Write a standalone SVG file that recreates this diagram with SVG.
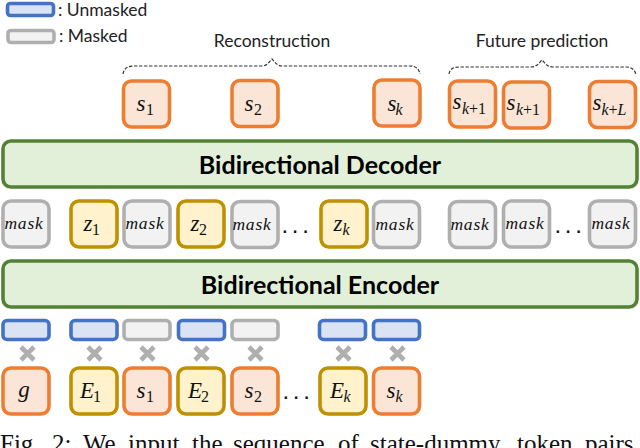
<svg xmlns="http://www.w3.org/2000/svg" width="640" height="448" viewBox="0 0 640 448">
<defs>
<style>
.tile{stroke-width:3.6}
.o{fill:#fbe5d6;stroke:#ed7d31}
.y{fill:#fff2cc;stroke:#bf9000}
.g{fill:#f2f2f2;stroke:#afafaf}
.b{fill:#dae3f3;stroke:#4472c4}
.bar{fill:#e2f0d9;stroke:#548235;stroke-width:3.6}
.m{font-family:"Liberation Serif","DejaVu Serif",serif;font-style:italic;fill:#111;text-anchor:middle}
.v{font-size:23px}
.sub{font-size:16px}
.n{font-style:normal}
.mk{font-size:17.5px;letter-spacing:.8px}
.l{font-family:Lato,"Open Sans","Liberation Sans",sans-serif;fill:#222;font-size:17.5px}
.h{font-family:Lato,"Open Sans","Liberation Sans",sans-serif;font-weight:700;fill:#000;font-size:25px;text-anchor:middle}
.brace{fill:none;stroke:#333;stroke-width:1.2;stroke-dasharray:3.4 1.6}
.x{fill:none;stroke:#afafaf;stroke-width:4.6}
.dots{font-family:"Liberation Sans",sans-serif;font-size:24px;fill:#111;letter-spacing:3.6px;text-anchor:middle}
.cap{font-family:"Liberation Serif",serif;font-size:25px;fill:#111}
</style>
</defs>

<g id="legend">
<rect class="tile b" x="7.500" y="3.500" width="46" height="12" rx="3"/>
<text class="l" x="58" y="16">: Unmasked</text>
<rect class="tile g" x="8" y="30.500" width="46" height="12" rx="3"/>
<text class="l" x="59" y="42">: Masked</text>
</g>

<g id="connectors">
<path class="brace" d="M123 74C124 69 127 66 134 66H262C267 66 269 62 272 59C275 62 277 66 282 66H410C416 66 419 69 420 74"/>
<path class="brace" d="M449 74C450 69 453 67 459 67H531C537 67 539 63 542 60C545 63 547 67 553 67H626C632 67 635 70 636 75"/>
<path class="x" d="M21 347l13 13M34 347l-13 13M88 347l13 13M101 347l-13 13M141 347l13 13M154 347l-13 13M195 347l13 13M208 347l-13 13M249 347l13 13M262 347l-13 13M337 347l13 13M350 347l-13 13M391 347l13 13M404 347l-13 13"/>
</g>

<g id="label-reconstruction"><text class="l" x="272" y="47" text-anchor="middle">Reconstruction</text></g>
<g id="label-future"><text class="l" x="542" y="47" text-anchor="middle">Future prediction</text></g>

<g id="out-s1"><rect class="tile o" x="123.500" y="81" width="46" height="46" rx="8"/><text class="m v" x="141" y="111">s</text><text class="m sub n" x="150" y="115">1</text></g>
<g id="out-s2"><rect class="tile o" x="232" y="80.500" width="46" height="46" rx="8"/><text class="m v" x="249" y="111">s</text><text class="m sub n" x="258" y="115">2</text></g>
<g id="out-sk"><rect class="tile o" x="374" y="80" width="46" height="46" rx="8"/><text class="m v" x="392" y="111">s</text><text class="m sub" x="399" y="115">k</text></g>
<g id="out-sk1a"><rect class="tile o" x="449.500" y="81" width="46" height="46" rx="8"/><text class="m v" x="457" y="109">s</text><text class="m sub" x="474" y="114">k<tspan class="n">+1</tspan></text></g>
<g id="out-sk1b"><rect class="tile o" x="503.500" y="82" width="46" height="46" rx="8"/><text class="m v" x="511" y="110">s</text><text class="m sub" x="528" y="115">k<tspan class="n">+1</tspan></text></g>
<g id="out-skL"><rect class="tile o" x="589.500" y="81.500" width="46" height="46" rx="8"/><text class="m v" x="597" y="110">s</text><text class="m sub" x="614" y="115">k<tspan class="n">+</tspan>L</text></g>

<g id="decoder"><rect class="bar" x="3" y="141" width="634" height="46" rx="8"/><text class="h" x="320" y="174">Bidirectional Decoder</text></g>

<g id="mid-mask0"><rect class="tile g" x="3" y="201" width="46" height="46" rx="8"/><text class="m mk" x="24" y="229">mask</text></g>
<g id="mid-z1"><rect class="tile y" x="71" y="201" width="46" height="46" rx="8"/><text class="m v" x="88" y="231">z</text><text class="m sub n" x="96" y="235">1</text></g>
<g id="mid-mask1"><rect class="tile g" x="124" y="201" width="46" height="46" rx="8"/><text class="m mk" x="145" y="229">mask</text></g>
<g id="mid-z2"><rect class="tile y" x="178" y="201" width="46" height="46" rx="8"/><text class="m v" x="195" y="231">z</text><text class="m sub n" x="203" y="235">2</text></g>
<g id="mid-mask2"><rect class="tile g" x="232" y="201.500" width="46" height="46" rx="8"/><text class="m mk" x="252" y="230">mask</text></g>
<text class="dots" x="297" y="233">...</text>
<g id="mid-zk"><rect class="tile y" x="321" y="201" width="46" height="46" rx="8"/><text class="m v" x="338" y="231">z</text><text class="m sub" x="346" y="235">k</text></g>
<g id="mid-mask3"><rect class="tile g" x="373.500" y="201.500" width="46" height="46" rx="8"/><text class="m mk" x="395" y="230">mask</text></g>
<g id="mid-mask4"><rect class="tile g" x="449.500" y="201.500" width="46" height="46" rx="8"/><text class="m mk" x="470" y="230">mask</text></g>
<g id="mid-mask5"><rect class="tile g" x="503.500" y="201" width="46" height="46" rx="8"/><text class="m mk" x="525" y="229">mask</text></g>
<text class="dots" x="570" y="233">...</text>
<g id="mid-mask6"><rect class="tile g" x="589.500" y="201" width="46" height="46" rx="8"/><text class="m mk" x="611" y="229">mask</text></g>

<g id="encoder"><rect class="bar" x="3" y="261" width="634" height="46" rx="8"/><text class="h" x="320" y="294">Bidirectional Encoder</text></g>

<g id="tok-g"><rect class="tile b" x="3" y="320.500" width="46" height="19" rx="4"/></g>
<g id="tok-e1"><rect class="tile b" x="71" y="320.500" width="46" height="19" rx="4"/></g>
<g id="tok-s1"><rect class="tile g" x="124" y="320.500" width="46" height="19" rx="4"/></g>
<g id="tok-e2"><rect class="tile b" x="178.500" y="320.500" width="46" height="19" rx="4"/></g>
<g id="tok-s2"><rect class="tile g" x="232" y="320.500" width="46" height="19" rx="4"/></g>
<g id="tok-ek"><rect class="tile b" x="319.500" y="320.500" width="46" height="19" rx="4"/></g>
<g id="tok-sk"><rect class="tile b" x="373.500" y="320.500" width="46" height="19" rx="4"/></g>

<g id="in-g"><rect class="tile o" x="3" y="368" width="46" height="46" rx="8"/><text class="m v" x="24" y="397">g</text></g>
<g id="in-e1"><rect class="tile y" x="71" y="368" width="46" height="46" rx="8"/><text class="m v" x="87" y="398">E</text><text class="m sub n" x="97" y="402">1</text></g>
<g id="in-s1"><rect class="tile o" x="124" y="368" width="46" height="46" rx="8"/><text class="m v" x="141" y="398">s</text><text class="m sub n" x="150" y="402">1</text></g>
<g id="in-e2"><rect class="tile y" x="178" y="368" width="46" height="46" rx="8"/><text class="m v" x="195" y="398">E</text><text class="m sub n" x="205" y="402">2</text></g>
<g id="in-s2"><rect class="tile o" x="232" y="368" width="46" height="46" rx="8"/><text class="m v" x="249" y="398">s</text><text class="m sub n" x="258" y="402">2</text></g>
<text class="dots" x="298" y="399">...</text>
<g id="in-ek"><rect class="tile y" x="320" y="368" width="46" height="46" rx="8"/><text class="m v" x="337" y="398">E</text><text class="m sub" x="347" y="402">k</text></g>
<g id="in-sk"><rect class="tile o" x="373.500" y="368" width="46" height="46" rx="8"/><text class="m v" x="391" y="398">s</text><text class="m sub" x="399" y="402">k</text></g>

<text class="cap" y="452"><tspan x="0">Fig.</tspan> <tspan x="52">2:</tspan> <tspan x="83">We</tspan> <tspan x="128">input</tspan> <tspan x="192">the</tspan> <tspan x="233">sequence</tspan> <tspan x="338">of</tspan> <tspan x="370">state-dummy</tspan> <tspan x="517">token</tspan> <tspan x="585">pairs</tspan></text>
</svg>
